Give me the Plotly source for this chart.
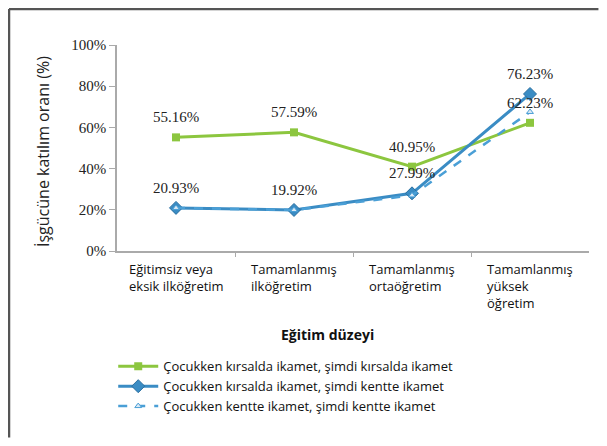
import plotly.graph_objects as go

categories = ["Eğitimsiz veya<br>eksik ilköğretim", "Tamamlanmış<br>ilköğretim",
              "Tamamlanmış<br>ortaöğretim", "Tamamlanmış<br>yüksek<br>öğretim"]
series_names = ["Çocukken kırsalda ikamet, şimdi kırsalda ikamet",
                "Çocukken kırsalda ikamet, şimdi kentte ikamet",
                "Çocukken kentte ikamet, şimdi kentte ikamet"]
rural_rural = [55.16, 57.59, 40.95, 62.23]
rural_urban = [20.93, 19.92, 27.99, 76.23]
urban_urban = [20.9, 19.9, 27.0, 67.5]
y_ticks = [0, 20, 40, 60, 80, 100]
y_ticktext = ["0%", "20%", "40%", "60%", "80%", "100%"]

xs = list(range(len(categories)))
green = "#8cc63f"
blue = "#3a8cc4"
blue2 = "#4a9fd6"

fig = go.Figure()
fig.add_trace(go.Scatter(x=xs, y=rural_rural, name=series_names[0], mode="lines+markers",
                         line=dict(color=green, width=3),
                         marker=dict(symbol="square", size=8, color=green)))
fig.add_trace(go.Scatter(x=xs, y=rural_urban, name=series_names[1], mode="lines+markers",
                         line=dict(color=blue, width=3),
                         marker=dict(symbol="diamond", size=10, color=blue,
                                     line=dict(color="#2a6fa0", width=1))))
fig.add_trace(go.Scatter(x=xs, y=urban_urban, name=series_names[2], mode="lines+markers",
                         line=dict(color=blue2, width=2.5, dash="dash"),
                         marker=dict(symbol="triangle-up", size=6, color="#dceaf5",
                                     line=dict(color=blue2, width=1))))

annotations = []
for vals in (rural_rural, rural_urban):
    for i, v in enumerate(vals):
        annotations.append(dict(x=xs[i], y=v, xref="x", yref="y", text=f"{v:.2f}%",
                                showarrow=False, yshift=20,
                                font=dict(family="Liberation Serif", size=15, color="#222")))
for i, c in enumerate(categories):
    annotations.append(dict(x=xs[i], y=0, xref="x", yref="paper", text=c, align="left",
                            showarrow=False, yanchor="top", yshift=-7,
                            font=dict(family="Open Sans", size=13, color="#111")))
annotations.append(dict(x=0.447, y=-0.405, xref="paper", yref="paper", text="<b>Eğitim düzeyi</b>",
                        xanchor="center", yanchor="middle",
                        showarrow=False, font=dict(family="Open Sans", size=14, color="#111")))
annotations.append(dict(x=-0.157, y=0.485, xref="paper", yref="paper",
                        text="İşgücüne katılım oranı (%)", textangle=-90,
                        xanchor="center", yanchor="middle",
                        showarrow=False, font=dict(family="Open Sans", size=16, color="#222")))

fig.update_layout(
    width=591, height=430,
    margin=dict(l=109, r=10, t=37, b=187),
    paper_bgcolor="white", plot_bgcolor="white",
    showlegend=True,
    legend=dict(x=-0.008, y=-0.487, xanchor="left", yanchor="top",
                font=dict(family="Open Sans", size=13, color="#111"),
                tracegroupgap=2, itemwidth=40, bgcolor="rgba(0,0,0,0)"),
    annotations=annotations,
    shapes=[
        dict(type="line", xref="paper", yref="paper", x0=-0.2288, x1=1.02, y0=1.1748, y1=1.1748,
             line=dict(color="#555", width=2.5), layer="above"),
        dict(type="line", xref="paper", yref="paper", x0=-0.2288, x1=-0.2288, y0=1.1748, y1=-0.905,
             line=dict(color="#555", width=2.5), layer="above"),
    ],
    xaxis=dict(range=[-0.5, 3.5], showticklabels=False, showgrid=False, zeroline=False,
               showline=True, linecolor="#aaa", linewidth=1.5,
               tickvals=[0.5, 1.5, 2.5], ticks="outside", ticklen=4, tickcolor="#aaa"),
    yaxis=dict(range=[0, 100], tickvals=y_ticks, ticktext=y_ticktext, showgrid=False,
               zeroline=False, showline=True, linecolor="#aaa", linewidth=1.5,
               ticks="outside", ticklen=6, tickcolor="#aaa",
               tickfont=dict(family="Liberation Serif", size=15, color="#222")),
)
fig.write_html("out.html")
